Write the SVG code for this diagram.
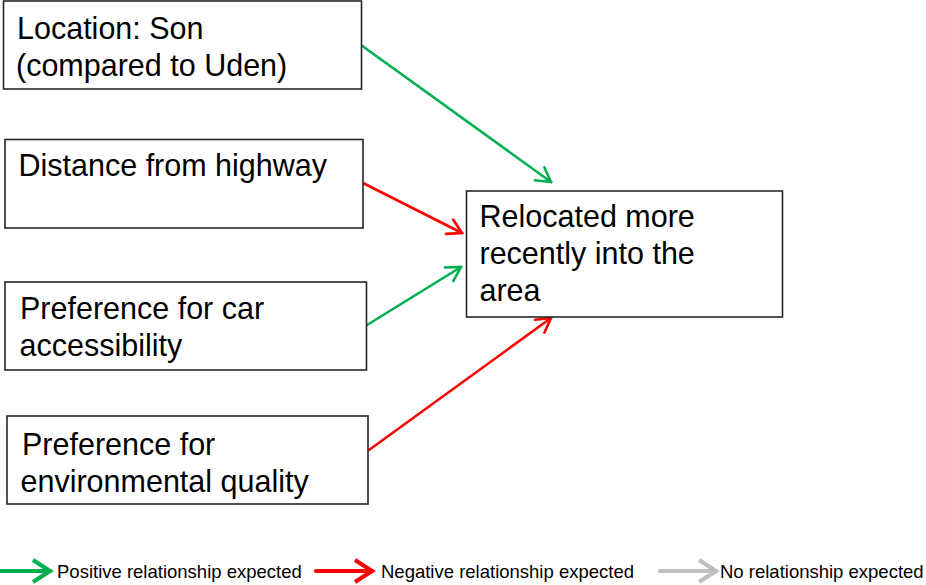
<svg xmlns="http://www.w3.org/2000/svg" width="926" height="585" viewBox="0 0 926 585">
<style>
.box{fill:#fff;stroke:#262626;stroke-width:1.6}
.t{font-family:"Liberation Sans",Arial,sans-serif;font-size:30.5px;fill:#000}
.lg{font-family:"Liberation Sans",Arial,sans-serif;font-size:18.5px;fill:#000}
.c{fill:none;stroke-width:2.6;stroke-linecap:round}
.g{stroke:#00B050}.r{stroke:#FF0000}.n{stroke:#BFBFBF}
.lw{stroke-width:4.2}
</style>
<defs>
<marker id="ag" markerUnits="userSpaceOnUse" viewBox="-18 -10 20 20" markerWidth="20" markerHeight="20" refX="0" refY="0" orient="auto"><path d="M-14,-8 L0,0 L-14,8" fill="none" stroke="#00B050" stroke-width="2.6" stroke-linecap="round"/></marker>
<marker id="ar" markerUnits="userSpaceOnUse" viewBox="-18 -10 20 20" markerWidth="20" markerHeight="20" refX="0" refY="0" orient="auto"><path d="M-14,-8 L0,0 L-14,8" fill="none" stroke="#FF0000" stroke-width="2.6" stroke-linecap="round"/></marker>
<marker id="lg" markerUnits="userSpaceOnUse" viewBox="-22 -14 26 28" markerWidth="26" markerHeight="28" refX="0" refY="0" orient="auto"><path d="M-17,-11 L0,0 L-17,11" fill="none" stroke="#00B050" stroke-width="4.2"/></marker>
<marker id="lr" markerUnits="userSpaceOnUse" viewBox="-22 -14 26 28" markerWidth="26" markerHeight="28" refX="0" refY="0" orient="auto"><path d="M-17,-11 L0,0 L-17,11" fill="none" stroke="#FF0000" stroke-width="4.2"/></marker>
<marker id="ln" markerUnits="userSpaceOnUse" viewBox="-22 -14 26 28" markerWidth="26" markerHeight="28" refX="0" refY="0" orient="auto"><path d="M-17,-11 L0,0 L-17,11" fill="none" stroke="#BFBFBF" stroke-width="4.2"/></marker>
</defs>
<g id="connectors">
<line class="c g" x1="361" y1="45" x2="551" y2="182" marker-end="url(#ag)"/>
<line class="c r" x1="363" y1="183" x2="462" y2="233" marker-end="url(#ar)"/>
<line class="c g" x1="367" y1="325" x2="461" y2="267" marker-end="url(#ag)"/>
<line class="c r" x1="369" y1="450" x2="551" y2="318" marker-end="url(#ar)"/>
</g>
<g id="n1"><rect class="box" x="3.5" y="1" width="358" height="88"/><text class="t" x="17" y="38.5">Location: Son</text><text class="t" x="16" y="76">(compared to Uden)</text></g>
<g id="n2"><rect class="box" x="5" y="139.5" width="358" height="88.5"/><text class="t" x="18.5" y="176">Distance from highway</text></g>
<g id="n3"><rect class="box" x="5" y="282" width="361.5" height="88"/><text class="t" x="20" y="318.5">Preference for car</text><text class="t" x="19.5" y="355.5">accessibility</text></g>
<g id="n4"><rect class="box" x="7" y="416" width="361" height="88"/><text class="t" x="22" y="455">Preference for</text><text class="t" x="20.5" y="492">environmental quality</text></g>
<g id="target"><rect class="box" x="466.5" y="191" width="316" height="126"/><text class="t" x="479.5" y="227">Relocated more</text><text class="t" x="479.5" y="264">recently into the</text><text class="t" x="479.5" y="301">area</text></g>
<g id="legend">
<line class="c g lw" x1="0" y1="571" x2="50" y2="571" marker-end="url(#lg)" stroke-linecap="butt"/>
<text class="lg" x="57" y="577.5">Positive relationship expected</text>
<line class="c r lw" x1="316" y1="571" x2="372" y2="571" marker-end="url(#lr)" stroke-linecap="butt"/>
<text class="lg" x="381" y="577.5">Negative relationship expected</text>
<line class="c n lw" x1="660" y1="571" x2="716" y2="571" marker-end="url(#ln)" stroke-linecap="butt"/>
<text class="lg" x="720" y="577.5">No relationship expected</text>
</g>
</svg>
